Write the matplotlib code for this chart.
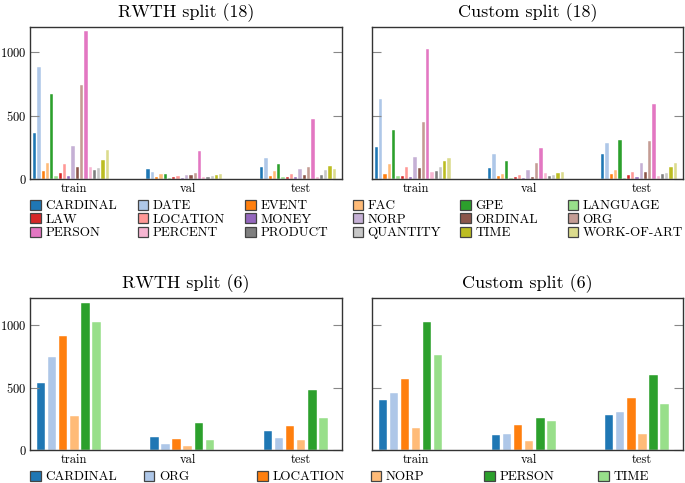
import matplotlib
matplotlib.use('Agg')
import matplotlib.pyplot as plt
import numpy as np
from matplotlib.patches import Patch

plt.rcParams['font.family'] = ['cmr10', 'DejaVu Serif']
plt.rcParams['axes.formatter.use_mathtext'] = True

splits = ['train', 'val', 'test']

labels18 = ['CARDINAL', 'DATE', 'EVENT', 'FAC', 'GPE', 'LANGUAGE',
            'LAW', 'LOCATION', 'MONEY', 'NORP', 'ORDINAL', 'ORG',
            'PERSON', 'PERCENT', 'PRODUCT', 'QUANTITY', 'TIME', 'WORK-OF-ART']
colors18 = ['#1f77b4', '#aec7e8', '#ff7f0e', '#ffbb78', '#2ca02c', '#98df8a',
            '#d62728', '#ff9896', '#9467bd', '#c5b0d5', '#8c564b', '#c49c94',
            '#e377c2', '#f7b6d2', '#7f7f7f', '#c7c7c7', '#bcbd22', '#dbdb8d']

# RWTH split, 18 classes (train / val / test)
rwth18_train = [364, 882, 65, 123, 673, 24, 45, 118, 21, 262, 97, 738, 1162, 97, 73, 84, 149, 228]
rwth18_val = [76, 55, 16, 39, 39, 10, 16, 24, 10, 29, 29, 45, 220, 16, 18, 26, 31, 39]
rwth18_test = [92, 165, 24, 60, 118, 16, 13, 42, 16, 79, 34, 92, 471, 13, 34, 68, 99, 81]

# Custom split, 18 classes
custom18_train = [255, 632, 39, 118, 387, 24, 24, 95, 16, 174, 87, 450, 1024, 55, 61, 97, 142, 166]
custom18_val = [87, 197, 21, 42, 139, 8, 13, 32, 10, 71, 18, 126, 247, 47, 26, 32, 45, 55]
custom18_test = [195, 282, 39, 68, 311, 10, 29, 55, 16, 124, 58, 303, 592, 24, 37, 50, 95, 126]

labels6 = ['CARDINAL', 'ORG', 'LOCATION', 'NORP', 'PERSON', 'TIME']
colors6 = ['#1f77b4', '#aec7e8', '#ff7f0e', '#ffbb78', '#2ca02c', '#98df8a']

# RWTH split, 6 classes
rwth6_train = [539, 741, 912, 272, 1179, 1024]
rwth6_val = [107, 48, 85, 29, 219, 77]
rwth6_test = [155, 96, 195, 80, 480, 253]

# Custom split, 6 classes
custom6_train = [403, 453, 571, 179, 1024, 760]
custom6_val = [120, 131, 200, 75, 253, 229]
custom6_test = [277, 304, 419, 128, 600, 368]


def draw_panel(ax, title, series, colors, pitch, width, shift, ymax, show_labels):
    x = np.arange(len(splits))
    n = len(colors)
    for i, col in enumerate(colors):
        vals = [s[i] for s in series]
        ax.bar(x + shift + (i - (n - 1) / 2) * pitch, vals, width, color=col,
               edgecolor='white', linewidth=0.3)
    ax.set_xlim(-0.388, 2.361)
    ax.set_ylim(0, ymax)
    ax.set_xticks(x)
    ax.set_xticklabels(splits)
    ax.set_yticks([0, 500, 1000])
    ax.tick_params(axis='x', length=0, pad=3, labelsize=9)
    ax.tick_params(axis='y', direction='in', length=6.5, width=0.8, color='#888888',
                   right=True, labelleft=show_labels, pad=2.5, labelsize=9)
    for sp in ax.spines.values():
        sp.set_color('#333333')
        sp.set_linewidth(1.0)
    ax.set_title(title, fontsize=13, pad=7)


fig = plt.figure(figsize=(6.85, 4.83), dpi=100)
W, H = 685.0, 483.0


def add_axes(x0, x1, ytop, ybot):
    return fig.add_axes([x0 / W, 1 - ybot / H, (x1 - x0) / W, (ybot - ytop) / H])


ax1 = add_axes(30, 342, 27, 179)
ax2 = add_axes(372, 683, 27, 179)
ax3 = add_axes(30, 342, 298, 450)
ax4 = add_axes(372, 683, 298, 450)

draw_panel(ax1, 'RWTH split (18)', [rwth18_train, rwth18_val, rwth18_test],
           colors18, 0.0377, 0.029, -0.027, 1197, True)
draw_panel(ax2, 'Custom split (18)', [custom18_train, custom18_val, custom18_test],
           colors18, 0.0377, 0.029, -0.027, 1197, False)
draw_panel(ax3, 'RWTH split (6)', [rwth6_train, rwth6_val, rwth6_test],
           colors6, 0.0978, 0.075, -0.047, 1216, True)
draw_panel(ax4, 'Custom split (6)', [custom6_train, custom6_val, custom6_test],
           colors6, 0.0978, 0.075, -0.047, 1216, False)


def legend_entry(label, color, xpx, ypx):
    h = Patch(facecolor=color, edgecolor='#444444', linewidth=0.9)
    fig.legend(handles=[h], labels=[label], loc='center left',
               bbox_to_anchor=(xpx / W, 1 - ypx / H), frameon=False,
               borderpad=0, borderaxespad=0, handlelength=0.8, handleheight=0.8,
               handletextpad=0.35, fontsize=9.5)


# top legend: 6 columns, 3 rows (row-major)
for k, (lab, col) in enumerate(zip(labels18, colors18)):
    r, c = divmod(k, 6)
    legend_entry(lab, col, 30 + c * 107.5, 206 + r * 13.5)

# bottom legend: one row
for k, (lab, col) in enumerate(zip(labels6, colors6)):
    legend_entry(lab, col, 30 + k * 113.6, 477)

fig.savefig('out.png', dpi=100)
